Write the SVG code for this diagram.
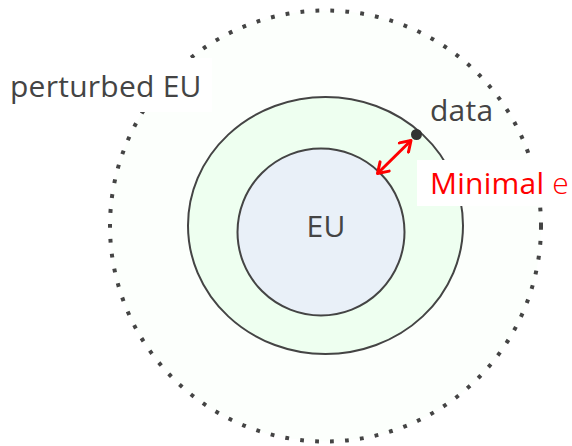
<svg xmlns="http://www.w3.org/2000/svg" width="572" height="446" viewBox="0 0 572 446">
  <defs>
    <style>
      .lbl { font-family: "Open Sans", "Noto Sans", "Liberation Sans", sans-serif; font-size: 30px; letter-spacing: 0.25px; fill: #444; }
      .red { fill: #ff0000; }
      .ring { stroke: #444; stroke-width: 2; }
    </style>
    <marker id="vhead" viewBox="0 0 16 16" refX="13" refY="8" markerWidth="16" markerHeight="16" markerUnits="userSpaceOnUse" orient="auto-start-reverse">
      <path d="M3,1.5 L13,8 L3,14.5" fill="none" stroke="#ff0000" stroke-width="3" stroke-linecap="round" stroke-linejoin="round"/>
    </marker>
  </defs>
  <rect width="572" height="446" fill="#ffffff"/>
  <g id="perturbed-EU">
    <circle cx="325.5" cy="226" r="215.5" fill="#fcfffc" stroke="#444" stroke-width="4" stroke-dasharray="3.8 11.2"/>
  </g>
  <g id="minimal-region">
    <ellipse class="ring" cx="325.5" cy="225.5" rx="137.5" ry="128.5" fill="#eefff0"/>
  </g>
  <g id="EU">
    <circle class="ring" cx="321" cy="232" r="83.5" fill="#e9f0f8"/>
    <text class="lbl" x="326" y="237" text-anchor="middle">EU</text>
  </g>
  <g id="data">
    <circle cx="416.5" cy="134.5" r="5.5" fill="#333"/>
    <text class="lbl" x="430" y="121">data</text>
  </g>
  <g id="connectors">
    <line x1="411" y1="140.5" x2="377.5" y2="173.5" stroke="#ff0000" stroke-width="3" marker-start="url(#vhead)" marker-end="url(#vhead)"/>
  </g>
  <g id="label-perturbed">
    <rect x="0" y="58" width="212" height="54" fill="#ffffff"/>
    <text class="lbl" x="10" y="97">perturbed EU</text>
  </g>
  <g id="label-minimal">
    <rect x="417" y="160" width="155" height="46" fill="#ffffff"/>
    <text class="lbl red" x="430" y="194">Minimal <tspan font-weight="300">e</tspan></text>
  </g>
</svg>
